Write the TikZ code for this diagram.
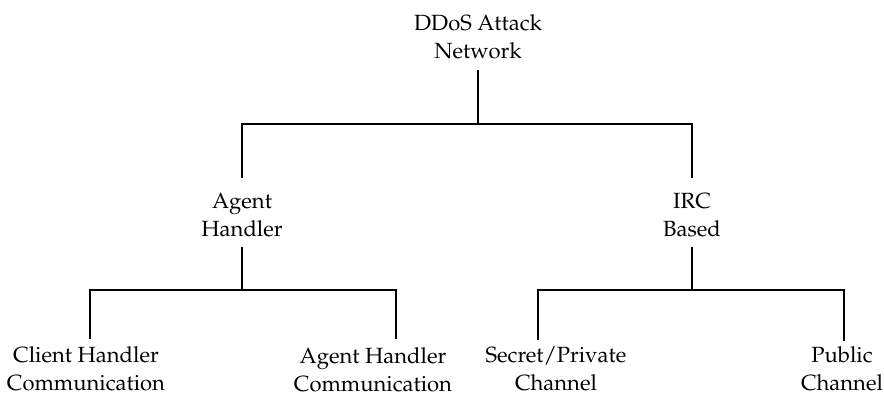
\documentclass[tikz,border=0pt]{standalone}
\usepackage[T1]{fontenc}
\usepackage{mathpazo}
\usepackage{tikz}

\begin{document}
\begin{tikzpicture}
            [x=1pt, y=-1pt,
            every node/.style={align=center, inner sep=0pt,
                font=\fontsize{22}{27.5}\selectfont},
            link/.style={line width=1.8pt}]

            \useasboundingbox (0,0) rectangle (884,396);

            % labels
            \node (root) at (478,37) {DDoS Attack\\Network};
            \node (agent) at (242,215) {Agent\\Handler};
            \node (irc) at (692,215) {IRC\\Based};
            \node (client) at (86,369) {Client Handler\\Communication};
            \node (agentcom) at (373,370) {Agent Handler\\Communication};
            \node (secret) at (556,369) {Secret/Private\\Channel};
            \node (public) at (842,369) {Public\\Channel};

            % bars
            \coordinate (top) at (478,124);
            \coordinate (leftbar) at (242,290);
            \coordinate (rightbar) at (692,290);

            \draw[link, shorten <=11pt] (root.south) -- (top);
            \draw[link, shorten <=15pt, shorten >=15pt]
                (agent.north) |- (top) -| (irc.north);

            \draw[link, shorten <=10pt] (agent.south) -- (leftbar);
            \draw[link, shorten <=8pt, shorten >=9pt]
                ([xshift=4pt]client.north) |- (leftbar) -| ([xshift=23pt]agentcom.north);

            \draw[link, shorten <=10pt] (irc.south) -- (rightbar);
            \draw[link, shorten <=7pt, shorten >=6pt]
                ([xshift=-18pt]secret.north) |- (rightbar) -| ([xshift=2pt]public.north);
        \end{tikzpicture}
\end{document}
